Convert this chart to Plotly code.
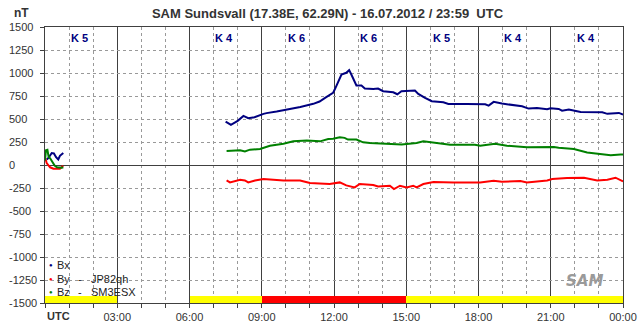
import plotly.graph_objects as go

# ---------------- data ----------------
t_bx = [0.07, 0.14, 0.28, 0.37, 0.46, 0.55, 0.62, 0.69, 0.76, None,
        7.50, 7.72, 8.00, 8.24, 8.44, 8.70, 9.07, 9.20, 9.62, 10.04, 10.60, 11.14, 11.40, 11.63, 11.84,
        11.96, 12.03, 12.17, 12.31, 12.51, 12.63, 12.72, 12.83, 12.93, 13.14, 13.28, 13.63, 13.83,
        14.04, 14.46, 14.63, 14.80, 15.36, 15.50, 15.78, 16.06, 16.54, 16.75, 17.51, 18.28, 18.42,
        18.63, 18.97, 19.46, 19.81, 20.08, 20.43, 20.85, 20.99, 21.33, 21.47, 21.75, 22.24, 23.14,
        23.35, 23.83, 24.00]
bx = [60, 75, 130, 125, 85, 60, 100, 120, 130, None,
      472, 436, 480, 534, 509, 520, 556, 564, 581, 600, 630, 665, 690, 730, 766,
      784, 820, 911, 984, 1002, 1031, 984, 911, 864, 864, 831, 827, 831,
      802, 791, 769, 802, 809, 773, 730, 693, 682, 664, 664, 660, 646,
      686, 668, 649, 638, 613, 620, 606, 617, 609, 591, 602, 577, 573,
      556, 566, 548]

t_by = [0.00, 0.03, 0.07, 0.15, 0.21, 0.35, 0.50, 0.62, 0.70, 0.76, None,
        7.54, 7.68, 8.10, 8.30, 8.44, 8.72, 9.07, 9.62, 9.90, 10.59, 11.00, 11.40, 11.82, 12.24,
        12.51, 12.86, 13.07, 13.63, 13.83, 14.32, 14.49, 14.74, 15.01, 15.29, 15.43, 15.71, 16.13,
        16.96, 18.07, 18.63, 18.97, 19.74, 20.01, 20.85, 21.06, 21.68, 22.38, 22.93, 23.35, 23.69, 24.00]
by = [70, 60, 20, 0, -25, -40, -45, -42, -20, -10, None,
      -168, -190, -160, -168, -190, -168, -153, -160, -168, -168, -196, -200, -207, -189,
      -222, -244, -207, -218, -233, -225, -262, -225, -244, -225, -244, -207, -185,
      -189, -189, -171, -182, -175, -189, -168, -153, -142, -138, -168, -160, -138, -178]

t_bz = [0.00, 0.04, 0.10, 0.15, 0.22, 0.30, 0.40, 0.50, 0.60, 0.70, 0.76, None,
        7.54, 8.10, 8.30, 8.51, 8.93, 9.34, 9.90, 10.31, 10.87, 11.42, 11.76, 11.96, 12.24, 12.44,
        12.58, 12.93, 13.21, 13.49, 14.81, 15.43, 15.71, 15.99, 16.82, 17.85, 18.07, 18.69, 19.18,
        20.01, 21.13, 21.33, 21.96, 22.51, 23.07, 23.49, 23.90, 24.00]
bz = [50, 160, 165, 90, 70, 30, -5, -25, -30, -30, -25, None,
      152, 159, 148, 167, 174, 210, 232, 257, 265, 257, 283, 286, 301, 295,
      276, 276, 246, 240, 224, 240, 257, 246, 221, 221, 210, 232, 210,
      192, 196, 188, 174, 137, 115, 105, 115, 115]

k_start = [0, 3, 6, 9, 12, 15, 18, 21]          # 3-hour intervals (UTC)
k_index = [5, None, 4, 6, 6, 5, 4, 4]

y_ticks = [1500, 1250, 1000, 750, 500, 250, 0, -250, -500, -750, -1000, -1250, -1500]
x_ticks = [3, 6, 9, 12, 15, 18, 21, 24]
x_labels = ["03:00", "06:00", "09:00", "12:00", "15:00", "18:00", "21:00", "00:00"]

series = [("Bx", "", t_bx, bx, "#000080"),
          ("By", "JP82qh", t_by, by, "#ff0000"),
          ("Bz", "SM3ESX", t_bz, bz, "#008000")]

# ---------------- figure ----------------
FONT = "Liberation Sans, Arial, sans-serif"
DARK = "#404040"
fig = go.Figure()

# K-index bars at bottom
kx = [s + 1.5 for s, k in zip(k_start, k_index) if k is not None]
kc = ["#ff0000" if k >= 6 else "#ffff00" for k in k_index if k is not None]
fig.add_trace(go.Bar(x=kx, y=[75] * len(kx), base=-1500, width=3,
                     marker=dict(color=kc, line=dict(width=0)), hoverinfo="skip"))

for name, st, t, v, col in series:
    fig.add_trace(go.Scatter(x=t, y=v, mode="lines", name=name,
                             line=dict(color=col, width=2), connectgaps=False))

W, H = 643, 331
L, R, T, B = 45, 20, 27, 28
pw, ph = W - L - R, H - T - B

def px(x):
    return (x - L) / pw

def py(y):
    return (H - B - y) / ph

fig.update_layout(
    width=W, height=H,
    margin=dict(l=L, r=R, t=T, b=B, pad=0),
    plot_bgcolor="white", paper_bgcolor="white",
    showlegend=False, bargap=0,
    font=dict(family=FONT, size=11, color="#333333"),
    title=dict(text="<b>SAM Sundsvall (17.38E, 62.29N) - 16.07.2012 / 23:59  UTC</b>",
               x=327.5 / W, y=1 - 13 / H, xanchor="center", yanchor="middle",
               font=dict(family=FONT, size=13, color="#333333")),
)

fig.update_xaxes(range=[0, 24], tickmode="array", tickvals=x_ticks, ticktext=x_labels,
                 automargin=False,
                 showgrid=True, gridcolor=DARK, gridwidth=1,
                 ticks="outside", ticklen=4, tickcolor=DARK,
                 showline=True, linecolor=DARK, linewidth=1, mirror=True,
                 zeroline=False, tickfont=dict(size=11, color="#333333"),
                 minor=dict(tickmode="linear", tick0=0, dtick=1, showgrid=True,
                            gridcolor="#999999", griddash="3px,3px", gridwidth=1,
                            ticks="outside", ticklen=4, tickcolor=DARK))
fig.update_yaxes(range=[-1500, 1500], tickmode="array", tickvals=y_ticks,
                 automargin=False,
                 showticklabels=False, showgrid=True, gridcolor="#999999",
                 griddash="3px,3px", gridwidth=1,
                 ticks="outside", ticklen=4, tickcolor=DARK,
                 zeroline=True, zerolinecolor=DARK, zerolinewidth=1,
                 showline=True, linecolor=DARK, linewidth=1, mirror=True)

ann = []
# y tick labels (left aligned)
for v in y_ticks:
    ann.append(dict(x=px(7), xref="paper", y=v, yref="y", xanchor="left", yanchor="middle",
                    text=str(v), showarrow=False, font=dict(size=11, color="#333333")))
# K labels
for s, k in zip(k_start, k_index):
    if k is None:
        continue
    ann.append(dict(x=s + 1.45, xref="x", y=1, yref="paper", xanchor="center", yanchor="top",
                    yshift=-3, text=f"<b>K {k}</b>", showarrow=False,
                    font=dict(size=11, color="#000080")))
# nT and UTC
ann.append(dict(x=px(21), xref="paper", y=py(13), yref="paper", xanchor="center", yanchor="middle",
                text="<b>nT</b>", showarrow=False, font=dict(size=12, color="#333333")))
ann.append(dict(x=0, xref="paper", y=py(316), yref="paper", xanchor="left", yanchor="middle",
                text="<b>UTC</b>", showarrow=False, font=dict(size=11, color="#333333")))
# legend
for i, (name, st, t, v, col) in enumerate(series):
    yy = py(265 + 13.5 * i)
    ann.append(dict(x=px(51), xref="paper", y=yy, yref="paper", xanchor="center", yanchor="middle",
                    text="●", showarrow=False, font=dict(size=6, color=col)))
    ann.append(dict(x=px(55), xref="paper", y=yy, yref="paper", xanchor="left", yanchor="middle",
                    text=name, showarrow=False, font=dict(size=11, color="#222222")))
    if st:
        ann.append(dict(x=px(80), xref="paper", y=yy, yref="paper", xanchor="center", yanchor="middle",
                        text="-", showarrow=False, font=dict(size=11, color="#222222")))
        ann.append(dict(x=px(89), xref="paper", y=yy, yref="paper", xanchor="left", yanchor="middle",
                        text=st, showarrow=False, font=dict(size=11, color="#222222")))
# SAM logo (text approximation)
ann.append(dict(x=px(584), xref="paper", y=py(281), yref="paper", xanchor="center", yanchor="middle",
                text="<b><i>SAM</i></b>", showarrow=False,
                font=dict(family="DejaVu Sans", size=15, color="#9a9a9a")))
fig.update_layout(annotations=ann)

fig.write_html("out.html", config={"displayModeBar": False},
               post_script="document.body.style.margin='0';document.body.style.overflow='hidden';")
